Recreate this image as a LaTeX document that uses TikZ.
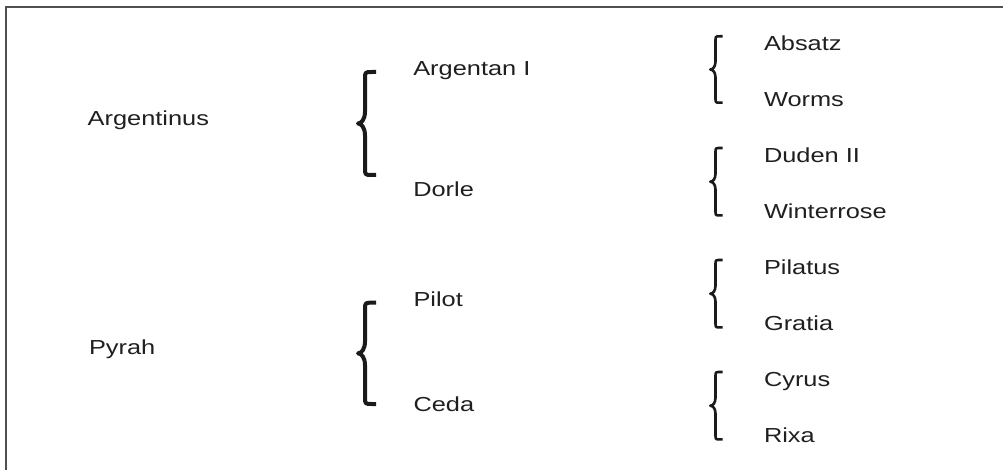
\documentclass[tikz,border=0pt]{standalone}
\usepackage{fontspec}
\setmainfont{Liberation Sans}[FakeStretch=1.25]
\definecolor{txt}{HTML}{1F1F1F}
\definecolor{brc}{HTML}{1A1A1A}
\definecolor{frm}{HTML}{505050}
% #1 style, #2 tip x, #3 stem x, #4 right x, #5 top y, #6 bottom y, #7 corner, #8 tip reach
\newcommand\drawcurly[8]{%
  \pgfmathsetmacro\cbMid{(#5+#6)/2}%
  \draw[#1] (#4,#5) -- ({#3+#7},#5) .. controls (#3,#5) .. (#3,{#5+#7})
    -- (#3,{\cbMid-#8}) .. controls (#3,{\cbMid-#8*0.35}) and ({(#2+#3)/2},\cbMid) .. (#2,\cbMid)
    .. controls ({(#2+#3)/2},\cbMid) and (#3,{\cbMid+#8*0.35}) .. (#3,{\cbMid+#8})
    -- (#3,{#6-#7}) .. controls (#3,#6) .. ({#3+#7},#6) -- (#4,#6);
}
\begin{document}
\begin{tikzpicture}[x=1pt,y=-1pt,
  lbl/.style={anchor=base west,inner sep=0pt,outer sep=0pt,text=txt,font=\fontsize{20.3}{24}\selectfont},
  bigbrace/.style={line width=4pt,draw=brc,line join=round},
  smallbrace/.style={line width=2.6pt,draw=brc,line join=round},
  frameline/.style={line width=1.6pt,draw=frm}]
\useasboundingbox (0,0) rectangle (1003,470);
% frame (only top and left edges visible)
\draw[frameline] (6,470) -- (6,7.3) -- (1003,7.3);
% left column
\node[lbl] (argentinus) at (87.7,126) {Argentinus};
\node[lbl] (pyrah) at (89,354) {Pyrah};
% middle column
\node[lbl] (argentan) at (413.3,76) {Argentan I};
\node[lbl] (dorle) at (413.3,196.7) {Dorle};
\node[lbl] (pilot) at (413.5,306) {Pilot};
\node[lbl] (ceda) at (413.5,411.7) {Ceda};
% right column
\node[lbl] (absatz) at (764,50.7) {Absatz};
\node[lbl] (worms) at (764,106.7) {Worms};
\node[lbl] (duden) at (764,162.7) {Duden II};
\node[lbl] (winterrose) at (764,218.7) {Winterrose};
\node[lbl] (pilatus) at (764,274.7) {Pilatus};
\node[lbl] (gratia) at (764,330.7) {Gratia};
\node[lbl] (cyrus) at (764,386.7) {Cyrus};
\node[lbl] (rixa) at (764,442.7) {Rixa};
% big braces
\drawcurly{bigbrace}{358}{365}{376}{72}{175}{7}{12}
\drawcurly{bigbrace}{358}{365}{376}{302.7}{404}{7}{12}
% small braces
\drawcurly{smallbrace}{710.3}{715.5}{722.7}{36.3}{102.7}{4.5}{8}
\drawcurly{smallbrace}{710.3}{715.5}{722.7}{148}{215.4}{4.5}{8}
\drawcurly{smallbrace}{710.3}{715.5}{722.7}{260}{327.4}{4.5}{8}
\drawcurly{smallbrace}{710.3}{715.5}{722.7}{372}{439.4}{4.5}{8}
\end{tikzpicture}
\end{document}
